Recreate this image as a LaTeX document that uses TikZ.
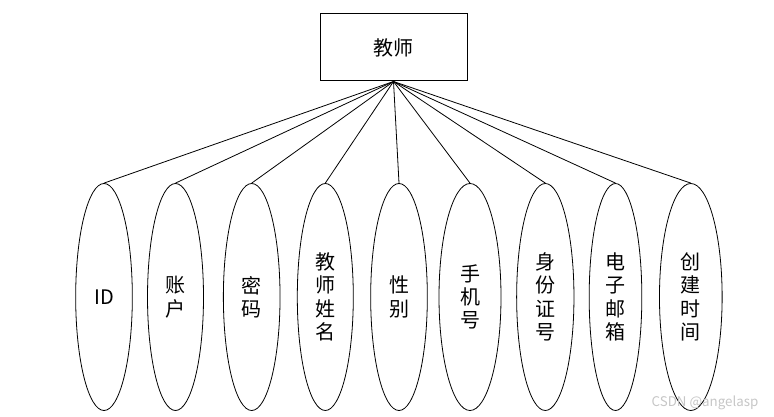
\documentclass[tikz,border=0pt]{standalone}
\usepackage{fontspec}
\setmainfont{Noto Sans CJK SC}
\usetikzlibrary{shapes.geometric}
\begin{document}
\begin{tikzpicture}[x=0.75pt,y=-0.75pt,
  entity/.style={draw,line width=0.75pt,minimum width=110.25pt,minimum height=50.25pt,inner sep=0pt,font=\fontsize{15}{17.5}\selectfont},
  attr/.style={draw,ellipse,line width=0.6pt,minimum height=170.25pt,inner sep=0pt,align=center,font=\fontsize{15}{17.5}\selectfont},
  link/.style={line width=0.6pt}]
\useasboundingbox (0,0) rectangle (774,417);
\node[entity] (teacher) at (393.5,47.5) {教师};
\node[attr,minimum width=42.5pt] (id) at (104,297) {ID};
\node[attr,minimum width=42pt] (account) at (175.5,297) {账\\户};
\node[attr,minimum width=42.5pt] (pwd) at (251.7,297) {密\\码};
\node[attr,minimum width=42pt] (name) at (325.3,297) {教\\师\\姓\\名};
\node[attr,minimum width=42.5pt] (sex) at (399,297) {性\\别};
\node[attr,minimum width=46.5pt] (phone) at (470,297) {手\\机\\号};
\node[attr,minimum width=43pt] (idcard) at (545.3,297) {身\\份\\证\\号};
\node[attr,minimum width=39.5pt] (email) at (615.5,297) {电\\子\\邮\\箱};
\node[attr,minimum width=47pt] (created) at (690.8,297) {创\\建\\时\\间};
\foreach \a in {id,account,pwd,name,sex,phone,idcard,email,created}
  \draw[link] (teacher.south) -- (\a.north);
\node[text=gray!45,font=\fontsize{10}{12}\selectfont,anchor=east] (mark) at (763,403) {CSDN @angelasp};
\end{tikzpicture}
\end{document}
